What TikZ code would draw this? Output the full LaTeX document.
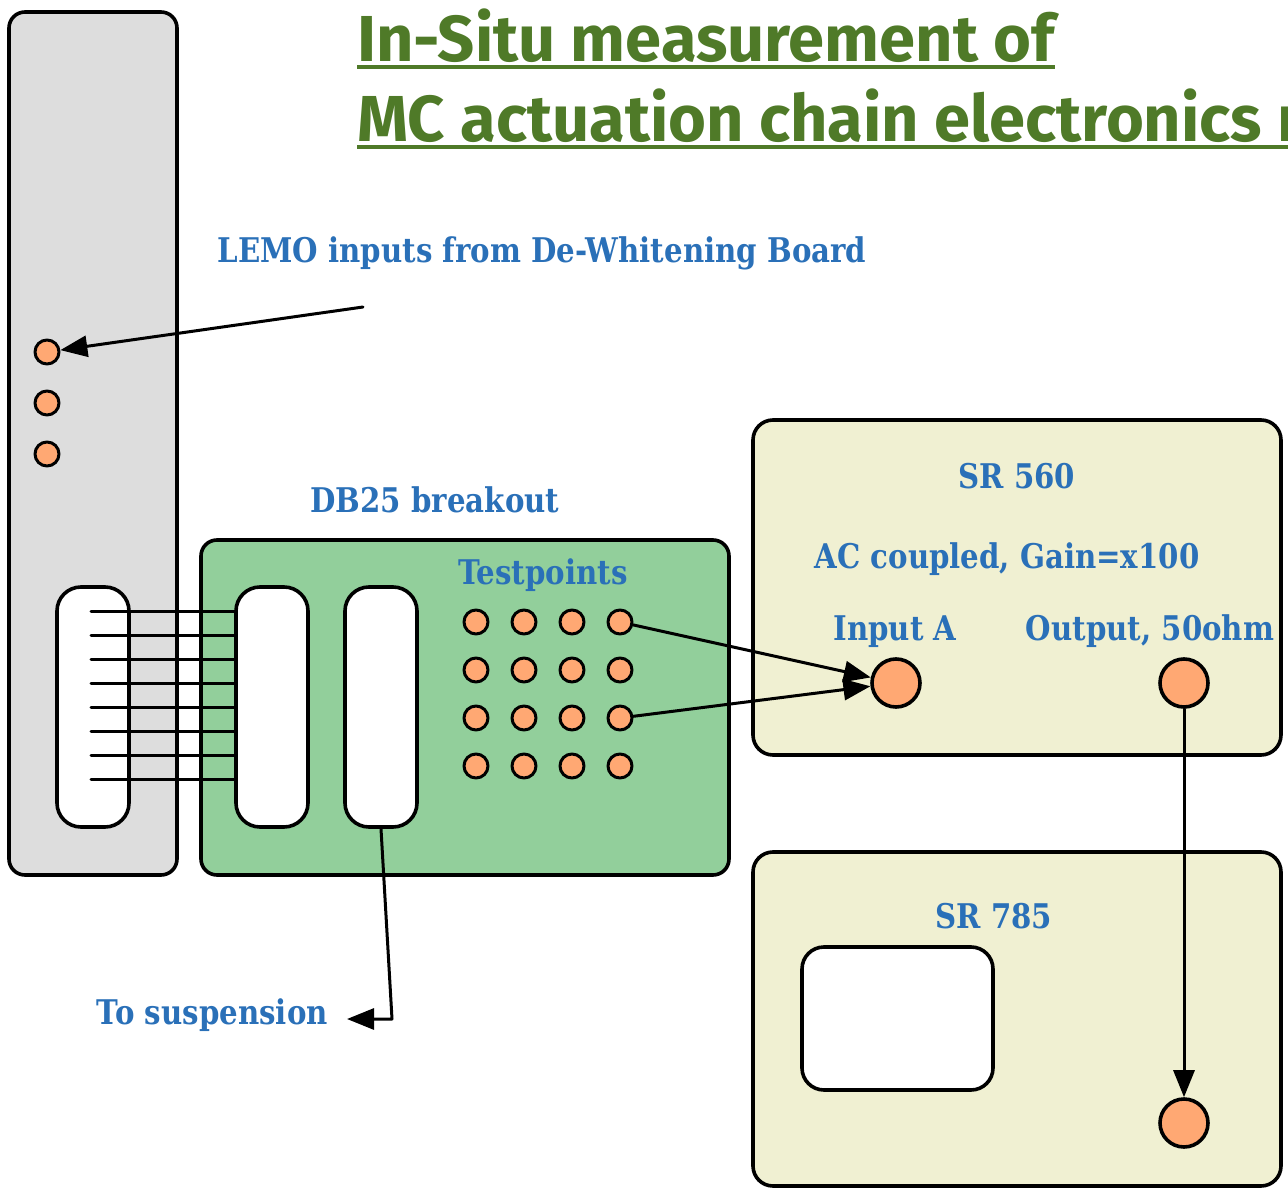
\documentclass[tikz,border=0pt]{standalone}
\usepackage{fontspec}
\usepackage{tikz}
\usetikzlibrary{arrows.meta,positioning,calc}
\newfontfamily\titlefont{Fira Sans}
\newfontfamily\lblfont{DejaVu Serif}[FakeStretch=0.86]
\definecolor{rackgray}{HTML}{DDDDDD}
\definecolor{boardgreen}{HTML}{92CF9B}
\definecolor{boxcream}{HTML}{F0F0D2}
\definecolor{lemoorange}{HTML}{FFA873}
\definecolor{lblblue}{HTML}{2A70B8}
\definecolor{titlegreen}{HTML}{4F7A28}
\tikzset{
  panel/.style={draw=black,line width=3.6pt,rounded corners=16pt,inner sep=0pt},
  plug/.style={draw=black,line width=3.6pt,fill=white,rounded corners=24pt,
    minimum width=72pt,minimum height=240pt,inner sep=0pt},
  lemo/.style={circle,draw=black,line width=3pt,fill=lemoorange,minimum size=24pt,inner sep=0pt},
  bnc/.style={lemo,minimum size=48pt,line width=3.6pt},
  lbl/.style={text=lblblue,inner sep=0pt,font=\lblfont\bfseries\fontsize{34}{40}\selectfont},
  ttl/.style={text=titlegreen,inner sep=0pt,anchor=base west,font=\titlefont\bfseries\fontsize{65}{72}\selectfont},
  wire/.style={line width=3pt},
  sig/.style={line width=3pt,-{Triangle[length=27pt,width=21pt]}},
}
\begin{document}
\begin{tikzpicture}[x=1pt,y=-1pt,line cap=round,line join=round]
\useasboundingbox (0,0) rectangle (1288,1190);
\clip (0,0) rectangle (1288,1190);

% title
\node[ttl] (title1) at (357,62) {In-Situ measurement of};
\node[ttl] (title2) at (357,142) {MC actuation chain electronics n};
\draw[titlegreen,line width=4.5pt,line cap=butt] (357,67) -- (title1.east |- 0,67);
\draw[titlegreen,line width=4.5pt,line cap=butt] (357,147) -- (1288,147);

% rack with the LEMO inputs
\node[panel,fill=rackgray,minimum width=168pt,minimum height=863pt] (rack) at (93,443.5) {};
\foreach \i/\yy in {1/352,2/403,3/454}
  \node[lemo] (lemo\i) at (47,\yy) {};
\node[plug] (conn1) at (93,707) {};

% DB25 breakout board
\node[panel,fill=boardgreen,minimum width=528pt,minimum height=335pt] (board) at (465,707.5) {};
\node[plug] (conn2) at (272,707) {};
\node[plug] (conn3) at (381,707) {};
\foreach \r in {1,...,4}
  \foreach \c in {1,...,4}
    \node[lemo] (tp-\r-\c) at (428+48*\c,574+48*\r) {};

% SR 560
\node[panel,fill=boxcream,rounded corners=20pt,minimum width=528pt,minimum height=335pt] (sr560) at (1017,587.5) {};
\node[bnc] (inA) at (896,683) {};
\node[bnc] (outA) at (1184,683) {};

% SR 785
\node[panel,fill=boxcream,rounded corners=20pt,minimum width=528pt,minimum height=334pt] (sr785) at (1017,1019) {};
\node[panel,fill=white,rounded corners=22pt,minimum width=191pt,minimum height=143pt] (screen) at (897.5,1018.5) {};
\node[bnc] (in785) at (1184,1123) {};

% flat cable
\foreach \k in {0,...,7}
  \draw[wire] (91,611+24*\k) -- (236,611+24*\k);

% labels
\node[lbl,anchor=base] (lemolbl) at (542,263) {LEMO inputs from De-Whitening Board};
\node[lbl,anchor=base] (dblbl) at (435,512) {DB25 breakout};
\node[lbl,anchor=base] (tplbl) at (543,584) {Testpoints};
\node[lbl,anchor=base] (sr560lbl) at (1017,488) {SR 560};
\node[lbl,anchor=base] (aclbl) at (1007,568) {AC coupled, Gain=x100};
\node[lbl,anchor=base] (inlbl) at (895,640) {Input A};
\node[lbl,anchor=base] (outlbl) at (1150,640) {Output, 50ohm};
\node[lbl,anchor=base] (sr785lbl) at (994,928) {SR 785};
\node[lbl,anchor=base east] (susplbl) at (328,1024) {To suspension};

% signal path
\coordinate (lemotail) at (363,307);
\coordinate (bend) at (392,1019);
\draw[sig] (lemotail) -- (lemo1);
\draw[sig] (tp-1-4) -- (inA);
\draw[sig] (tp-3-4) -- (inA);
\draw[sig] (outA) -- (in785);
\draw[sig] (conn3.south) -- (bend) -- ($(susplbl.east |- bend)+(19,0)$);
\end{tikzpicture}
\end{document}
